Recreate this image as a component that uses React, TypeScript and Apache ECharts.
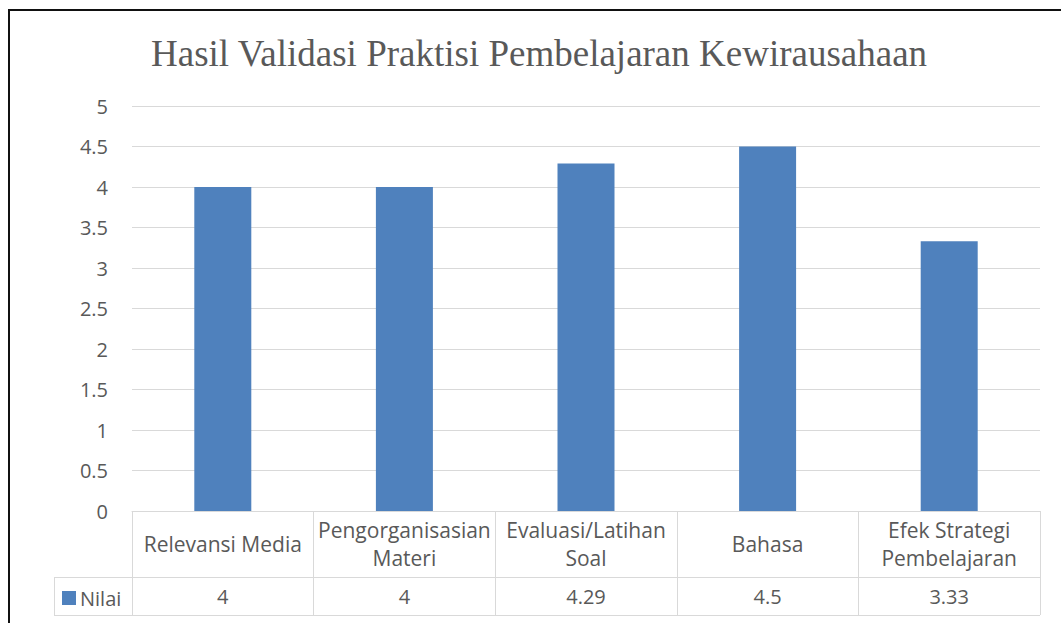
import React, { useEffect, useRef } from "react";
import * as echarts from "echarts";

const title = "Hasil Validasi Praktisi Pembelajaran Kewirausahaan";
const categories = [
  "Relevansi Media",
  "Pengorganisasian\nMateri",
  "Evaluasi/Latihan\nSoal",
  "Bahasa",
  "Efek Strategi\nPembelajaran",
];
const seriesName = "Nilai";
const values = [4, 4, 4.29, 4.5, 3.33];
const yTicks = { min: 0, max: 5, interval: 0.5 };

const GRID_L = 132;
const GRID_R = 1040;
const GRID_T = 106;
const GRID_B = 511;
const ROW1 = 577;
const ROW2 = 615;
const LEFT_COL = 54;
const LINE = "#d9d9d9";
const TXT = "#595959";
const FONT = "'Open Sans', 'Noto Sans', sans-serif";
const FS = 20;

export default function App() {
  const ref = useRef<HTMLDivElement>(null);
  useEffect(() => {
    if (!ref.current) return;
    const chart = echarts.init(ref.current, null, { renderer: "svg" });
    chart.setOption({
      animation: false,
      backgroundColor: "#fff",
      title: {
        text: title,
        left: 146,
        top: 30,
        textStyle: {
          fontFamily: "'Liberation Serif', 'Times New Roman', serif",
          fontSize: 37,
          fontWeight: "normal",
          color: TXT,
        },
      },
      legend: {
        data: [seriesName],
        left: 62,
        top: 588,
        padding: 0,
        icon: "rect",
        itemWidth: 14,
        itemHeight: 14,
        itemGap: 5,
        textStyle: { fontFamily: FONT, fontSize: FS, color: TXT, padding: [0, 0, 0, -1] },
      },
      grid: {
        left: GRID_L,
        right: 1061 - GRID_R,
        top: GRID_T,
        bottom: 623 - GRID_B,
      },
      xAxis: [
        {
          type: "category",
          data: categories,
          position: "bottom",
          axisLine: { show: true, lineStyle: { color: LINE, width: 1 } },
          axisTick: { show: true, length: ROW2 - GRID_B, lineStyle: { color: LINE } },
          axisLabel: {
            interval: 0,
            margin: 33,
            verticalAlign: "middle",
            fontFamily: FONT,
            fontSize: 21,
            lineHeight: 28,
            color: TXT,
          },
        },
        {
          type: "category",
          data: categories,
          position: "bottom",
          offset: ROW1 - GRID_B,
          axisLine: { show: true, lineStyle: { color: LINE, width: 1 } },
          axisTick: { show: false },
          axisLabel: {
            interval: 0,
            margin: 19,
            verticalAlign: "middle",
            fontFamily: FONT,
            fontSize: FS,
            color: TXT,
            formatter: (_v: string, i: number) => String(values[i]),
          },
        },
      ],
      yAxis: {
        type: "value",
        min: yTicks.min,
        max: yTicks.max,
        interval: yTicks.interval,
        axisLine: { show: false },
        axisTick: { show: false },
        splitLine: { lineStyle: { color: LINE, width: 1 } },
        axisLabel: {
          margin: 24,
          fontFamily: FONT,
          fontSize: FS,
          color: TXT,
        },
      },
      series: [
        {
          name: seriesName,
          type: "bar",
          data: values,
          barWidth: 57,
          itemStyle: { color: "#4f81bd" },
        },
      ],
      graphic: [
        {
          type: "line",
          shape: { x1: LEFT_COL, y1: ROW1 + 0.5, x2: GRID_L, y2: ROW1 + 0.5 },
          style: { stroke: LINE, lineWidth: 1 },
        },
        {
          type: "line",
          shape: { x1: LEFT_COL, y1: ROW2 + 0.5, x2: GRID_R, y2: ROW2 + 0.5 },
          style: { stroke: LINE, lineWidth: 1 },
        },
        {
          type: "line",
          shape: { x1: LEFT_COL + 0.5, y1: ROW1, x2: LEFT_COL + 0.5, y2: ROW2 },
          style: { stroke: LINE, lineWidth: 1 },
        },
        {
          type: "polyline",
          shape: { points: [[9, 640], [9, 10], [1080, 10]] },
          style: { stroke: "#111", lineWidth: 2, fill: null },
        },
      ],
    });
    return () => chart.dispose();
  }, []);
  return (
    <div
      ref={ref}
      style={{ position: "fixed", left: 0, top: 0, width: 1061, height: 623 }}
    />
  );
}
